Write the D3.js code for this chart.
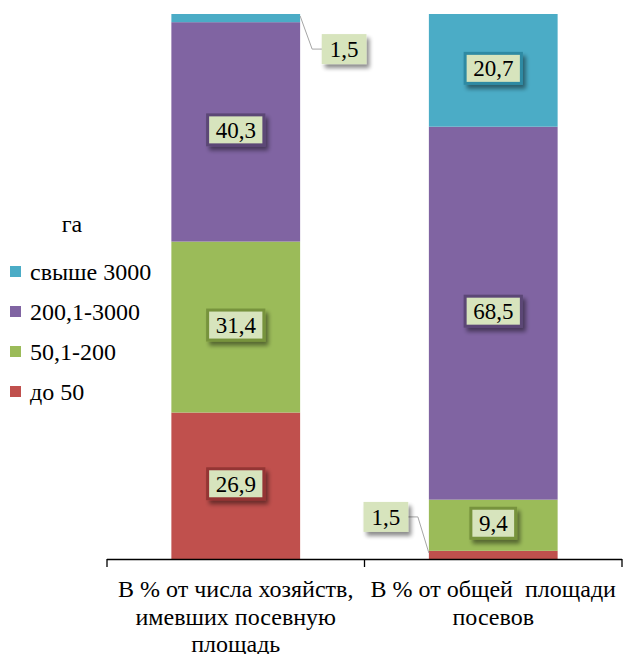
<!DOCTYPE html>
<html>
<head>
<meta charset="utf-8">
<script src="https://cdn.jsdelivr.net/npm/d3@7"></script>
</head>
<body style="margin:0">
<svg id="chart" width="623" height="654"></svg>
<script>
// Farm structure by sown area size group, percent
const categories = [
  ["В % от числа хозяйств,", "имевших посевную", "площадь"],
  ["В % от общей  площади", "посевов"]
];
const seriesNames = ["до 50", "50,1-200", "200,1-3000", "свыше 3000"];
const seriesColors = ["#c0504d", "#9bbb59", "#8064a2", "#4bacc6"];
const borderColors = ["#943634", "#77933c", "#5c4776", "#2e8aa3"];
const shareOfFarms = [26.9, 31.4, 40.3, 1.5];
const shareOfArea = [1.5, 9.4, 68.5, 20.7];
const legendTitle = "га";

const values = [shareOfFarms, shareOfArea];
const svg = d3.select("#chart");

// all texts sit directly on the svg root, drawn last
const texts = [];
function addText(x, y, size, str, anchor, lines) {
  texts.push({ x, y, size, str, anchor, lines });
}

// soft drop shadow for the value boxes
const defs = svg.append("defs");
const f = defs.append("filter").attr("id", "shadow")
  .attr("x", "-30%").attr("y", "-30%").attr("width", "170%").attr("height", "170%");
f.append("feGaussianBlur").attr("in", "SourceAlpha").attr("stdDeviation", 2).attr("result", "b");
f.append("feOffset").attr("in", "b").attr("dx", 3).attr("dy", 4).attr("result", "o");
f.append("feComponentTransfer").attr("in", "o").attr("result", "s")
  .append("feFuncA").attr("type", "linear").attr("slope", 0.45);
const merge = f.append("feMerge");
merge.append("feMergeNode").attr("in", "s");
merge.append("feMergeNode").attr("in", "SourceGraphic");

const x = d3.scaleBand().domain(d3.range(categories.length))
  .range([107, 622]).paddingInner(0.5).paddingOuter(0.25);
const y = d3.scaleLinear().domain([0, 100.1]).range([559, 14]);

// stacked segments
const segs = [];
values.forEach((vals, ci) => {
  let acc = 0;
  vals.forEach((v, si) => {
    segs.push({ ci, si, v, y0: acc, y1: acc + v });
    acc += v;
  });
});

svg.append("g").selectAll("rect").data(segs).join("rect")
  .attr("x", d => x(d.ci))
  .attr("width", x.bandwidth())
  .attr("y", d => y(d.y1))
  .attr("height", d => y(d.y0) - y(d.y1))
  .attr("fill", d => seriesColors[d.si]);

// category axis with ticks between the groups
const axisG = svg.append("g");
const bounds = [x.range()[0], ...d3.range(1, categories.length).map(i => x(i) - x.step() * x.paddingInner() / 2), x.range()[1]];
axisG.append("line").attr("x1", bounds[0]).attr("x2", bounds[bounds.length - 1])
  .attr("y1", y(0) + 0.5).attr("y2", y(0) + 0.5).attr("stroke", "#000").attr("stroke-width", 1.3);
axisG.selectAll("line.tick").data(bounds).join("line").attr("class", "tick")
  .attr("x1", d => d).attr("x2", d => d)
  .attr("y1", y(0)).attr("y2", y(0) + 8).attr("stroke", "#000").attr("stroke-width", 1.3);

categories.forEach((lines, ci) => {
  addText(x(ci) + x.bandwidth() / 2, 597, 24, null, "middle", lines);
});

// value boxes
const labels = svg.append("g");
function drawBox(cx, cy, text, stroke) {
  const w = text.length * 11.5 - 5.75 + 16;
  const h = 30;
  labels.append("rect")
    .attr("x", cx - w / 2).attr("y", cy - h / 2).attr("width", w).attr("height", h)
    .attr("fill", "#d7e4bd")
    .attr("stroke", stroke || "none").attr("stroke-width", stroke ? 3 : 0)
    .attr("filter", "url(#shadow)");
  addText(cx, cy + 8, 23, text, "middle");
}

segs.forEach(d => {
  const cx = x(d.ci) + x.bandwidth() / 2;
  const cy = (y(d.y0) + y(d.y1)) / 2;
  const text = d3.format(".1f")(d.v).replace(".", ",");
  if (d.v >= 5) {
    drawBox(cx, cy - 2, text, borderColors[d.si]);
  } else if (d.ci === 0) {
    // small top segment: label to the right with a leader
    const right = x(d.ci) + x.bandwidth();
    const by = cy + 31;
    labels.append("polyline")
      .attr("points", [[right, y(d.y1) + 2], [right + 12, by], [right + 22, by]].map(p => p.join(",")).join(" "))
      .attr("fill", "none").attr("stroke", "#a6a6a6").attr("stroke-width", 1);
    drawBox(right + 22 + 22, by, text, null);
  } else {
    // small bottom segment: label to the left with a leader
    const left = x(d.ci);
    const by = cy - 38;
    labels.append("polyline")
      .attr("points", [[left, y(d.y0) - 6], [left - 11, by], [left - 21, by]].map(p => p.join(",")).join(" "))
      .attr("fill", "none").attr("stroke", "#a6a6a6").attr("stroke-width", 1);
    drawBox(left - 21 - 22, by, text, null);
  }
});

// legend
addText(72, 232, 24, legendTitle, "middle");
const order = d3.range(seriesNames.length).reverse();
order.forEach((si, i) => {
  const cy = 272 + i * 40;
  svg.append("rect").attr("x", 10).attr("y", cy - 6).attr("width", 11).attr("height", 11)
    .attr("fill", seriesColors[si]);
  addText(30, cy + 8, 24, seriesNames[si], "start");
});

// texts
texts.forEach(t => {
  const el = svg.append("text").attr("x", t.x).attr("y", t.y)
    .style("font-family", '"Liberation Serif"')
    .attr("font-size", t.size)
    .attr("text-anchor", t.anchor);
  if (t.lines) {
    el.style("white-space", "pre");
    t.lines.forEach((ln, li) => {
      el.append("tspan").attr("x", t.x).attr("y", t.y + li * 27.5).text(ln);
    });
  } else {
    el.text(t.str);
  }
});
</script>
</body>
</html>
